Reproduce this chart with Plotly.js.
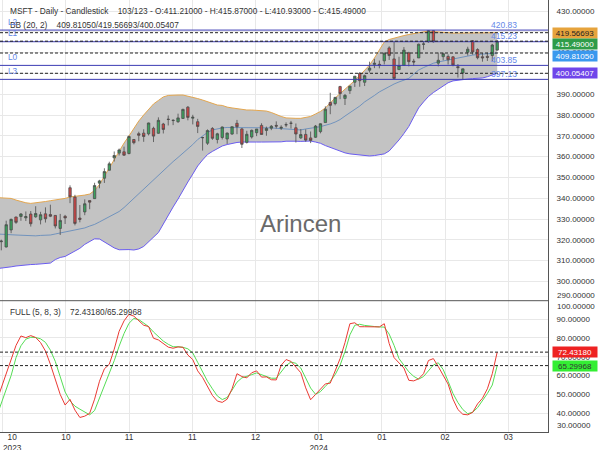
<!DOCTYPE html>
<html><head><meta charset="utf-8">
<script src="https://cdn.plot.ly/plotly-3.0.1.min.js"></script>
<style>html,body{margin:0;padding:0;background:#fff;}#chart{width:600px;height:450px;}</style>
</head><body><div id="chart"></div>
<script>
// ---------- DATA ----------
const dates = ["2023-10-04","2023-10-05","2023-10-06","2023-10-09","2023-10-10","2023-10-11","2023-10-12","2023-10-13","2023-10-16","2023-10-17","2023-10-18","2023-10-19","2023-10-20","2023-10-23","2023-10-24","2023-10-25","2023-10-26","2023-10-27","2023-10-30","2023-10-31",
"2023-11-01","2023-11-02","2023-11-03","2023-11-06","2023-11-07","2023-11-08","2023-11-09","2023-11-10","2023-11-13","2023-11-14","2023-11-15","2023-11-16","2023-11-17","2023-11-20","2023-11-21","2023-11-22","2023-11-24","2023-11-27","2023-11-28","2023-11-29","2023-11-30",
"2023-12-01","2023-12-04","2023-12-05","2023-12-06","2023-12-07","2023-12-08","2023-12-11","2023-12-12","2023-12-13","2023-12-14","2023-12-15","2023-12-18","2023-12-19","2023-12-20","2023-12-21","2023-12-22","2023-12-26","2023-12-27","2023-12-28","2023-12-29",
"2024-01-02","2024-01-03","2024-01-04","2024-01-05","2024-01-08","2024-01-09","2024-01-10","2024-01-11","2024-01-12","2024-01-16","2024-01-17","2024-01-18","2024-01-19","2024-01-22","2024-01-23","2024-01-24","2024-01-25","2024-01-26","2024-01-29","2024-01-30","2024-01-31",
"2024-02-01","2024-02-02","2024-02-05","2024-02-06","2024-02-07","2024-02-08","2024-02-09","2024-02-12","2024-02-13","2024-02-14","2024-02-15","2024-02-16","2024-02-20","2024-02-21","2024-02-22","2024-02-23","2024-02-26","2024-02-27","2024-02-28","2024-02-29",
"2024-03-01"];

const openP = [314.03,319.09,316.55,324.75,330.96,331.21,330.57,332.38,331.05,329.59,332.49,332.15,331.72,325.47,331.30,345.02,340.54,330.43,333.41,338.85,
339.79,347.24,349.63,353.45,359.40,361.68,362.30,361.49,368.22,371.01,371.28,370.96,373.61,371.22,375.67,378.00,377.33,376.78,378.35,383.76,378.49,
376.76,369.10,366.45,373.54,368.23,369.20,368.48,370.85,376.02,373.31,366.85,369.45,371.49,375.00,372.56,373.68,375.00,373.69,375.37,376.00,
373.86,369.01,370.67,368.97,369.30,372.01,376.37,386.00,385.49,393.66,387.98,391.72,395.76,400.02,395.75,401.54,404.32,404.37,406.06,412.26,406.96,
401.83,403.81,409.90,405.88,407.44,414.05,415.25,420.56,404.94,408.07,408.14,407.96,403.24,400.17,410.19,415.67,411.46,407.99,408.18,408.64,
411.21];
const highP = [320.04,320.08,329.19,330.19,331.10,332.82,333.63,333.83,336.14,333.46,335.59,336.88,331.92,332.45,331.99,346.20,341.63,336.72,339.45,339.00,
347.42,348.83,354.39,357.54,362.46,363.87,364.79,370.10,368.47,371.95,373.13,376.35,374.37,378.87,376.22,379.79,377.97,380.64,383.00,384.30,380.09,
378.16,369.52,373.08,374.18,371.45,374.46,371.60,374.42,377.64,373.76,372.40,373.00,373.26,376.03,374.41,375.18,376.94,375.06,376.46,377.16,
375.90,373.26,373.10,372.06,375.20,375.99,384.17,390.68,388.68,394.03,390.11,393.99,398.67,400.62,399.38,405.63,407.01,406.17,409.98,413.05,415.32,
408.00,412.65,410.41,407.00,414.30,415.56,420.82,420.74,410.07,410.00,409.13,408.29,404.49,402.29,412.83,415.86,412.08,409.78,409.98,414.20,
415.87];
const lowP = [314.00,314.93,316.30,323.18,327.67,329.14,329.03,326.36,330.60,327.41,328.30,330.91,325.45,322.30,327.60,337.62,326.94,328.40,331.83,334.69,
339.65,344.77,347.33,353.35,357.63,360.55,360.36,361.07,365.90,367.35,367.11,370.18,367.00,371.00,371.12,374.97,375.14,376.20,378.16,377.44,375.47,
371.31,362.90,365.62,368.03,366.32,368.23,366.10,370.46,370.77,364.13,366.28,368.68,369.84,370.53,370.04,372.71,373.50,372.81,374.16,373.48,
366.77,368.51,367.17,366.50,369.01,371.19,376.32,380.38,384.65,387.62,384.81,390.12,393.50,393.59,393.93,400.45,402.53,402.43,404.33,406.45,397.21,
401.80,403.56,403.39,403.55,407.40,411.39,414.75,414.75,403.39,406.31,404.29,403.44,398.01,397.22,408.57,408.97,406.76,405.63,405.97,405.92,
410.93];
const closeP = [318.96,319.36,327.26,329.82,328.39,332.42,331.16,327.73,332.64,332.06,330.11,331.32,326.67,329.32,330.53,340.67,327.89,329.81,337.31,338.11,
346.07,348.32,352.80,356.53,360.53,363.20,360.69,369.67,366.68,370.27,369.67,376.17,369.85,377.44,373.07,377.85,377.43,378.61,382.70,378.85,378.91,
374.51,369.14,372.52,368.80,370.95,374.23,371.30,374.38,374.37,365.93,370.73,372.65,373.26,370.62,373.54,374.58,374.66,374.07,375.28,376.04,
370.87,370.60,367.94,367.75,374.69,375.79,382.77,384.63,388.47,390.27,389.47,393.87,398.67,396.51,398.90,402.56,404.87,403.93,409.72,408.59,397.58,
403.78,411.22,405.65,405.49,414.05,414.11,420.55,415.26,406.32,409.49,406.56,404.06,402.79,402.18,411.65,410.34,407.54,407.48,407.72,413.64,
415.49];

const bbUpper = [340.3,340.2,340.1,339.9,339.1,338.3,337.8,337.5,337.7,338.0,338.4,338.8,339.1,339.5,339.9,340.6,340.8,341.1,341.5,342.0,
343.7,346.6,350.7,354.5,358.4,362.7,366.5,369.9,373.8,377.1,
380.0,382.9,385.3,387.0,388.7,389.4,389.6,389.6,389.6,389.1,
388.7,387.9,387.2,386.3,385.5,384.8,384.6,383.8,383.4,383.0,
382.7,382.4,382.4,382.2,381.9,381.9,381.2,380.2,379.3,378.6,
378.4,378.4,378.4,378.8,379.3,380.5,381.7,383.4,386.0,388.2,
390.3,392.3,394.2,396.6,399.0,401.6,404.0,407.4,411.3,415.1,
416.3,417.0,417.7,418.2,418.7,419.2,419.7,420.1,420.4,420.1,
419.9,419.7,419.4,419.4,419.4,419.4,419.4,419.4,419.4,419.4,419.4,419.4,419.567];
const bbMid = [322.8,322.6,322.5,322.4,322.3,322.2,322.0,321.8,321.9,322.1,322.2,322.3,322.8,323.3,323.8,324.2,324.7,325.2,325.7,326.6,
327.4,328.6,329.8,331.0,332.2,333.6,335.5,337.7,340.0,342.5,
344.8,347.0,349.2,351.2,353.6,355.5,357.6,359.6,361.6,363.7,
365.8,368.2,370.1,371.6,372.8,373.4,373.8,374.0,374.0,374.0,
374.0,374.0,374.1,374.1,374.1,374.1,373.8,373.6,373.4,373.1,
372.9,372.8,372.8,373.3,373.8,374.0,374.4,374.9,375.7,376.6,
377.8,379.5,381.0,382.4,384.3,386.3,387.7,389.4,391.1,392.5,
393.9,394.9,395.9,396.6,397.6,399.7,401.6,402.8,404.0,404.9,
405.5,406.0,406.4,406.9,407.4,407.9,408.4,408.8,409.1,409.3,409.6,409.7,409.8105];
const bbLower = [306.1,306.3,306.7,307.0,307.4,307.7,307.9,308.1,308.2,308.4,308.6,308.8,310.5,311.5,312.0,313.2,314.7,315.9,317.8,319.0,
320.5,320.4,318.9,317.5,316.1,315.2,315.4,315.3,315.1,315.6,
316.8,318.9,321.1,323.5,327.6,331.9,335.8,339.6,343.9,347.8,
351.6,355.5,358.4,361.0,362.5,363.9,365.1,365.8,366.4,366.8,
367.0,367.1,367.1,367.0,367.0,367.0,367.0,367.0,367.1,367.4,
367.5,367.4,367.3,367.4,367.5,367.0,366.4,365.3,364.4,363.7,
362.7,361.8,361.3,361.0,360.8,360.5,360.3,360.5,361.0,361.3,
362.7,365.1,368.0,371.1,374.5,379.0,383.4,386.3,388.9,390.8,
392.5,394.2,395.5,396.4,396.8,397.1,397.3,397.5,397.6,397.8,398.4,399.1,400.054];

const stochK = [46,53.5,60.5,68.5,76,81,80.1,81.2,80.2,77.5,73,66,57.5,50,44.4,47.4,41.7,37.8,38.5,40,
47.5,57,63.6,66,74,83.5,89,92.5,91.5,89.2,
86.7,86,79.8,78.9,77,75.1,74.5,75.2,75,70.9,
68.5,62.5,59,54,49.5,46.5,45.8,47.5,53,61,
59.5,58.8,61.5,62.5,59.2,59.3,57.8,57.7,65.5,68.5,
67.5,64.5,61.5,53.5,47.2,50,53,55.6,56,63,
69,77.5,87.5,88,85.9,85.9,85.8,85.6,85.8,87.5,
77,69.5,66.5,64,57.5,57.2,58.3,61,68,69,
64.8,60.5,55.5,47.5,42,39.5,39.2,40.5,45,48,53,61,72.4318];
const stochD = [38,45.5,52.8,60,69.5,75.8,79.3,80.3,80.2,79.5,77.6,73.5,67.5,59,51.3,46.6,43.8,42.2,40.7,39.2,
41.5,48,54.6,61,67.9,75.6,82.3,87.7,90.3,89.7,
87.7,86,83.1,80.6,78.3,76.6,75.3,75.3,75,74.2,
72,67,62,57,53,49.2,47.3,48.4,52.3,56.5,
58.8,59.5,60.5,61.4,60.6,59.5,58.6,58.6,62.2,65.3,
67.2,66.5,64,59,53.4,50.1,51.5,54.3,57,60.5,
65.5,72.7,81.6,86.7,87.2,86.6,86.2,86,85.8,85.7,
82,76,69,65.3,62,59.6,58.1,59.5,62.8,65.6,
66.8,63.2,57,50.5,45.7,42,39.8,40.6,43,46.5,50.5,55,65.29968];

const levelNames = ["L2","L1","L0","L3"];
const levelValues = [420.83, 415.23, 403.85, 397.13];
const bbLast = {mid: 409.81050, up: 419.56693, lo: 400.05407};
const lastClose = 415.49;
const stochLastK = 72.43180, stochLastD = 65.29968;
const dateTickText = ["10<br>2023","10","11","11","12","01<br>2024","01","02","03"];
const priceTicks = [300,310,320,330,340,350,360,370,380,390,400,410,420,430];
const oscTicks = [40,50,60,70,80,90];
const titleText = "MSFT - Daily - Candlestick\u00A0\u00A0\u00A0 103/123 - O:411.21000 - H:415.87000 - L:410.93000 - C:415.49000";
const bbText = "BB (20, 2)\u00A0\u00A0\u00A0 409.81050/419.56693/400.05407";
const oscText = "FULL (5, 8, 3)\u00A0\u00A0\u00A0 72.43180/65.29968";
const watermark = "Arincen";

// ---------- LAYOUT GEOMETRY ----------
const FONT = "Liberation Sans, Arial, sans-serif";
const plotW = 548, plotH = 432;
const splitPx = 300.7;
const splitFrac = 1 - splitPx / plotH;
const idx = dates.map((d, i) => i);
const x0px = -3.62, barPx = 4.91;
const pxToIdx = p => (p - x0px) / barPx;
const xRange = [pxToIdx(0), pxToIdx(plotW)];
const gridIdx = dateTickText.map((t, n) => pxToIdx(2.7 + 63.2 * n));
const pyToPaper = py => 1 - py / plotH;
const pxToPaper = px => px / plotW;
const priceRange = [290.72, 435.29];

const traces = [
  {x: idx, y: bbUpper, type: 'scatter', mode: 'lines', line: {color: '#e3a64f', width: 1}, xaxis: 'x', yaxis: 'y', hoverinfo: 'skip'},
  {x: idx, y: bbLower, type: 'scatter', mode: 'lines', fill: 'tonexty', fillcolor: '#c3c3c3', line: {color: '#6a5cf0', width: 1}, xaxis: 'x', yaxis: 'y', hoverinfo: 'skip'},
  {x: idx, y: bbMid, type: 'scatter', mode: 'lines', line: {color: '#5c86bb', width: 0.8}, xaxis: 'x', yaxis: 'y', hoverinfo: 'skip'},
  {x: idx, open: openP, high: highP, low: lowP, close: closeP, type: 'candlestick', xaxis: 'x', yaxis: 'y3',
   increasing: {line: {color: '#4d4d4d', width: 0.8}, fillcolor: '#3ba25d'},
   decreasing: {line: {color: '#4d4d4d', width: 0.8}, fillcolor: '#cf4444'},
   whiskerwidth: 0},
  {x: idx, y: stochD, type: 'scatter', mode: 'lines', line: {color: '#55dd55', width: 1}, xaxis: 'x2', yaxis: 'y2'},
  {x: idx, y: stochK, type: 'scatter', mode: 'lines', line: {color: '#ea3a33', width: 1}, xaxis: 'x2', yaxis: 'y2'}
];

const shapes = [];
levelValues.forEach(v => shapes.push({type: 'line', xref: 'paper', yref: 'y', x0: 0, x1: 1, y0: v, y1: v, line: {color: '#3b3bb3', width: 1}}));
[bbLast.up, lastClose, bbLast.mid, bbLast.lo].forEach(v => shapes.push({type: 'line', xref: 'paper', yref: 'y', x0: 0, x1: 1, y0: v, y1: v, line: {color: '#222', width: 1, dash: '3px,2px'}}));
[stochLastK, stochLastD].forEach(v => shapes.push({type: 'line', xref: 'paper', yref: 'y2', x0: 0, x1: 1, y0: v, y1: v, line: {color: '#222', width: 1, dash: '3px,2px'}}));
shapes.push({type: 'line', xref: 'paper', yref: 'paper', x0: 0, x1: 1, y0: splitFrac, y1: splitFrac, line: {color: '#555', width: 1}});

const txt = (text, px, py, opts = {}) => Object.assign({
  text, xref: 'paper', yref: 'paper', x: pxToPaper(px), y: pyToPaper(py), xanchor: 'left', yanchor: 'middle',
  showarrow: false, font: {family: FONT, size: 8.3, color: '#333'}
}, opts);

const annotations = [
  txt(titleText, 7.5, 10.5),
  txt(bbText, 7.5, 25),
  txt(oscText, 7.5, 311.5),
  txt(watermark, 300, 223, {xanchor: 'center', font: {family: FONT, size: 24, color: '#6a6a6a'}}),
  txt(dateTickText[0], 12, 442, {xanchor: 'center', yanchor: 'middle'}),
  txt("290.00000", 555, 295, {font: {family: FONT, size: 8, color: '#333'}}),
  txt("100.00000", 555, 306.7, {font: {family: FONT, size: 8, color: '#333'}}),
  txt("30.00000", 555, 425, {font: {family: FONT, size: 8, color: '#333'}})
];
levelValues.forEach((v, i) => {
  annotations.push({text: levelNames[i], xref: 'paper', yref: 'y', x: pxToPaper(5.5), y: v, yshift: 8.5, xanchor: 'left', yanchor: 'middle', showarrow: false, font: {family: FONT, size: 8.3, color: '#6688e8'}});
  annotations.push({text: v.toFixed(2), xref: 'paper', yref: 'y', x: pxToPaper(504), y: v, yshift: 5.5, xanchor: 'center', yanchor: 'middle', showarrow: false, font: {family: FONT, size: 8.5, color: '#6688e8'}});
});
const box = (val, yref, text, bg, fg, yshift) => ({text, xref: 'paper', yref, x: pxToPaper(575), y: val, yshift, xanchor: 'center', yanchor: 'middle',
  showarrow: false, bgcolor: bg, width: 44, height: 10, borderpad: 0, font: {family: FONT, size: 8, color: fg}});
annotations.push(box(bbLast.up, 'y', bbLast.up.toFixed(5), '#e6a33c', '#222', -0.5));
annotations.push(box(lastClose, 'y', lastClose.toFixed(5), '#2e9c48', '#fff', -3.3));
annotations.push(box(bbLast.mid, 'y', bbLast.mid.toFixed(5), '#3a98ee', '#fff', -2.5));
annotations.push(box(bbLast.lo, 'y', bbLast.lo.toFixed(5), '#6f45ea', '#fff', 0.5));
annotations.push(box(stochLastK, 'y2', stochLastK.toFixed(5), '#ee2222', '#fff', 0));
annotations.push(box(stochLastD, 'y2', stochLastD.toFixed(5), '#33ee33', '#333', -0.5));

const axisFont = {family: FONT, size: 8, color: '#333'};
const layout = {
  width: 600, height: 450,
  margin: {l: 0, r: 52, t: 0, b: 18, pad: 0},
  paper_bgcolor: '#fff', plot_bgcolor: '#fff',
  showlegend: false,
  hovermode: false,
  xaxis: {domain: [0, 1], anchor: 'y', range: xRange, tickvals: gridIdx, showticklabels: false, showgrid: true, gridcolor: '#e8e8e8', zeroline: false, showline: false, ticks: '', rangeslider: {visible: false}, fixedrange: true},
  xaxis2: {domain: [0, 1], anchor: 'y2', range: xRange, tickvals: gridIdx, ticktext: [''].concat(dateTickText.slice(1)), showgrid: true, gridcolor: '#e8e8e8', zeroline: false, showline: true, linecolor: '#555', linewidth: 1, ticks: '', ticklabelstandoff: -3, tickfont: {family: FONT, size: 8.3, color: '#333'}, fixedrange: true},
  yaxis: {domain: [splitFrac, 1], anchor: 'x', side: 'right', range: priceRange, tickvals: priceTicks, ticktext: priceTicks.map(v => v.toFixed(5)), showgrid: true, gridcolor: '#e8e8e8', zeroline: false, showline: true, linecolor: '#555', linewidth: 1, ticks: '', ticklabelstandoff: 6, tickfont: axisFont, fixedrange: true},
  yaxis3: {overlaying: 'y', anchor: 'x', side: 'right', range: priceRange, showgrid: false, showticklabels: false, showline: false, zeroline: false, ticks: '', fixedrange: true},
  yaxis2: {domain: [0, splitFrac], anchor: 'x2', side: 'right', range: [30.1, 99.7], tickvals: oscTicks, ticktext: oscTicks.map(v => v.toFixed(5)), showgrid: true, gridcolor: '#e8e8e8', zeroline: false, showline: true, linecolor: '#555', linewidth: 1, ticks: '', ticklabelstandoff: 6, tickfont: axisFont, fixedrange: true},
  shapes, annotations
};
Plotly.newPlot('chart', traces, layout, {staticPlot: true, displayModeBar: false});
</script></body></html>
